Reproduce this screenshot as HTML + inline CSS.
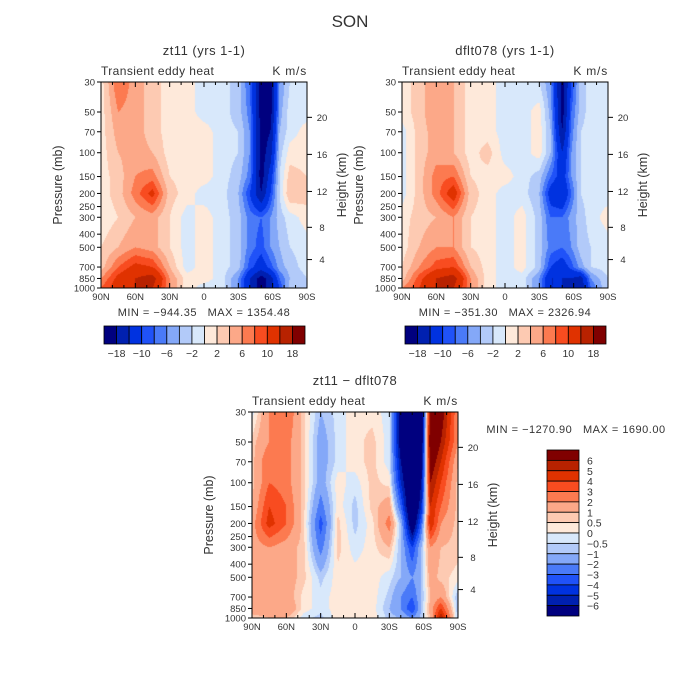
<!DOCTYPE html>
<html><head><meta charset="utf-8">
<style>
html,body{margin:0;padding:0;background:#fff;}
#wrap{position:relative;width:700px;height:700px;overflow:hidden;font-family:"Liberation Sans",sans-serif;}
canvas{position:absolute;}
svg{position:absolute;left:0;top:0;}
text{font-family:"Liberation Sans",sans-serif;fill:#333;white-space:pre;}
</style></head>
<body>
<div id="wrap">
<canvas id="c1"></canvas>
<canvas id="c2"></canvas>
<canvas id="c3"></canvas>
<svg id="ov" width="700" height="700"></svg>
</div>
<script>
// ---- data ----
const lats = [90,75,60,45,30,15,0,-15,-30,-40,-50,-58,-66,-75,-90];
const pLevels = [30,50,70,100,150,200,300,500,700,850,1000];
const zt11 = [
 [1,8,5,3,1,1,-1,-1,-3,-8,-20,-20,-6,-2,-1],
 [1,6,5,3,1,1,-1,-1,-3,-7,-20,-20,-5,-1,-1],
 [1,5,5,3,1,1,1,-1,-2,-6,-20,-18,-4,-1,1],
 [1,4,5,4,1,1,1,-1,-2,-6,-20,-16,-3,1,1],
 [1,3,6,7,2,1,1,-1,-3,-7,-20,-12,-2,3,2],
 [1,3,7,11,3,1,-1,-1,-4,-10,-18,-10,-2,4,3],
 [0.5,2,4,5,2,-1,1,-1,-3,-7,-8,-6,-3,-1,1],
 [2,4,6,5,2,-1,1,-1,-3,-7,-9,-6,-4,-2,-1],
 [3,8,11,10,4,-1,1,-1,-3,-9,-12,-9,-5,-3,-1],
 [6,11,14,16,6,1,1,-1,-6,-14,-20,-16,-8,-4,-2],
 [8,12,14,14,6,1,-1,-1,-6,-14,-20,-16,-10,-3,-2]
];
const dflt078 = [
 [1,3,6,4,1,1,-1,-1,-2,-6,-20,-10,-3,-1,-1],
 [1,3,6,4,1,1,-1,-1,1,-5,-20,-8,-3,-1,-1],
 [-1,3,5,4,1,1,-1,-1,1,-4,-18,-7,-2,-1,-1],
 [-1,3,5,4,1,3,-1,-1,1,-4,-14,-6,-2,-1,-1],
 [-1,3,7,8,2,1,1,-1,-3,-8,-12,-6,-2,-1,-1],
 [-1,3,7,12,3,1,-1,-1,-4,-12,-14,-8,-2,-1,-1],
 [1,3,4,6,2,1,-1,1,-3,-8,-8,-5,-3,-1,1],
 [1,4,6,6,2,1,-1,1,-3,-7,-8,-6,-3,-2,-1],
 [2,6,9,10,4,1,-1,1,-3,-10,-12,-9,-5,-2,-1],
 [3,9,14,16,6,1,-1,-1,-6,-14,-14,-14,-16,-6,-2],
 [6,10,14,14,6,1,-1,-1,-6,-14,-14,-16,-18,-8,-2]
];
const diff = [
 [-0.3,2,3,0.7,-1,-0.3,0.3,0.3,-0.3,-7,-9,-8,7,7,2],
 [0.7,2,2.5,0.7,-1.5,-0.3,0.3,0.7,-0.3,-7,-9,-8,8,6,2],
 [0.7,3,2.5,0.7,-1.5,-0.3,0.3,0.7,-0.3,-6,-9,-7,7,5,1],
 [0.7,3,2.5,0.7,-1.5,0.3,-0.3,0.7,0.3,-5,-9,-6,6,4,0.7],
 [1,4,3,0.7,-2.5,0.3,-0.7,0.7,1.5,-3,-9,-5,5,3,0.7],
 [1.5,4.5,3,0.7,-3.5,0.7,-0.7,0.3,2.5,-1,-8,-3,5,2,0.7],
 [1.5,2,1.5,0.7,-2.5,0.7,-0.3,0.3,1,-1,-4,-1,2,1,0.7],
 [1.5,1.5,1.5,0.7,-0.7,0.3,0.3,0.3,-0.3,-1,-2,-1,1.5,0.7,0.3],
 [1.5,2,1.5,0.3,-0.3,0.3,0.3,0.3,-0.7,-2,-3,-1,1,2,-1],
 [1.5,1.5,2,0.3,-0.3,0.3,0.3,0.3,-1,-2,-4,-1,1.5,4,-1],
 [0.7,1,1,-0.3,-0.7,0.3,0.3,0.3,-0.7,-1,-2,-0.7,1,6,-1]
];
const levelsMain = [-18,-14,-10,-8,-6,-4,-2,0,2,4,6,8,10,14,18];
const levelsDiff = [-6,-5,-4,-3,-2,-1,-0.5,0,0.5,1,2,3,4,5,6];
const mainBarLabels = ["-18","-10","-6","-2","2","6","10","18"];
const diffBarLabels = ["6","5","4","3","2","1","0.5","0","-0.5","-1","-2","-3","-4","-5","-6"];
const pTickLabels = [30,50,70,100,150,200,250,300,400,500,700,850,1000];
const latTickLabels = ["90N","60N","30N","0","30S","60S","90S"];
const latTickValues = [90,60,30,0,-30,-60,-90];
const heightTicks = [4,8,12,16,20];
const colors = ["#00007f","#0020b0","#0032e0","#2052f8","#4a7af8","#84a8f8","#b2caf9","#d8e8fb","#fee9da","#fdcab2","#fca888","#fc7a50","#f84c20","#e03200","#b82200","#800000"];

// ---- geometry ----
const P0=30,P1=1000,PW=206,PH=206;
const panels=[
 {id:'c1',x:101,y:82,data:zt11,lev:levelsMain,name:'zt11'},
 {id:'c2',x:402,y:82,data:dflt078,lev:levelsMain,name:'dflt078'},
 {id:'c3',x:252,y:412,data:diff,lev:levelsDiff,name:'diff'}
];
function yOfP(p,y0){return y0+Math.log(p/P0)/Math.log(P1/P0)*PH;}
function xOfLat(l,x0){return x0+(90-l)/180*PW;}
function pOfZ(zkm){const z=zkm*1000;return z<=11000?1013.25*Math.pow(1-2.25577e-5*z,5.25588):226.32*Math.exp(-(z-11000)/6341.6);}
function colorIdx(v,lev){let i=0;while(i<lev.length&&v>=lev[i])i++;return i;}
function hex(c){return [parseInt(c.substr(1,2),16),parseInt(c.substr(3,2),16),parseInt(c.substr(5,2),16)];}
const rgb=colors.map(hex);

panels.forEach(pn=>{
 const cv=document.getElementById(pn.id);
 cv.width=PW;cv.height=PH;cv.style.left=pn.x+'px';cv.style.top=pn.y+'px';
 const ctx=cv.getContext('2d');const img=ctx.createImageData(PW,PH);
 const lp=pLevels.map(p=>Math.log(p));
 for(let j=0;j<PH;j++){
  const p=Math.exp(Math.log(P0)+(j+0.5)/PH*Math.log(P1/P0));const l=Math.log(p);
  let r=0;while(r<lp.length-2&&l>lp[r+1])r++;
  let fy=(l-lp[r])/(lp[r+1]-lp[r]);fy=Math.max(0,Math.min(1,fy));
  for(let i=0;i<PW;i++){
   const lat=90-(i+0.5)/PW*180;
   let c=0;while(c<lats.length-2&&lat<lats[c+1])c++;
   let fx=(lats[c]-lat)/(lats[c]-lats[c+1]);fx=Math.max(0,Math.min(1,fx));
   const d=pn.data;
   const v=(d[r][c]*(1-fx)+d[r][c+1]*fx)*(1-fy)+(d[r+1][c]*(1-fx)+d[r+1][c+1]*fx)*fy;
   const k=colorIdx(v,pn.lev);const o=(j*PW+i)*4;
   img.data[o]=rgb[k][0];img.data[o+1]=rgb[k][1];img.data[o+2]=rgb[k][2];img.data[o+3]=255;
  }
 }
 ctx.putImageData(img,0,0);
});

// ---- overlay ----
const NS='http://www.w3.org/2000/svg';const ov=document.getElementById('ov');
function el(tag,attrs,txt){const e=document.createElementNS(NS,tag);for(const k in attrs)e.setAttribute(k,attrs[k]);if(txt!==undefined)e.textContent=txt;ov.appendChild(e);return e;}
function T(x,y,s,size,anchor,name,extra){const e=el('text',Object.assign({x:x,y:y,'font-size':size,'text-anchor':anchor||'middle'},extra||{}),s);
 
 return e;}

T(350,27,'SON',17,'middle','figure-title');

const titles=['zt11 (yrs 1-1)','dflt078 (yrs 1-1)','zt11 \u2212 dflt078'];
const titleY=[55,55,385];
panels.forEach((pn,n)=>{
 const x0=pn.x,y0=pn.y;
 T(x0+PW/2,titleY[n],titles[n],13,'middle','panel-title',{'letter-spacing':'0.5'});
 T(x0,y0-7,'Transient eddy heat',12,'start','variable-label',{'letter-spacing':'0.4'});
 T(x0+PW,y0-7,'K m/s',12,'end','units-label',{'letter-spacing':'0.8'});
 const fr=el('rect',{x:x0,y:y0,width:PW,height:PH,fill:'none',stroke:'#000','stroke-width':1});
 
 
 for(let L=90;L>=-90;L-=10){
  const x=xOfLat(L,x0);const major=(L%30===0);const len=major?5:3;
  el('line',{x1:x,y1:y0+PH,x2:x,y2:y0+PH-len,stroke:'#000','stroke-width':1});
  el('line',{x1:x,y1:y0,x2:x,y2:y0+len,stroke:'#000','stroke-width':1});
 }
 latTickLabels.forEach((s,i)=>{T(xOfLat(latTickValues[i],x0),y0+PH+12,s,9.5,'middle','x-tick-label');});
 pTickLabels.forEach(p=>{const y=yOfP(p,y0);
  el('line',{x1:x0,y1:y,x2:x0-4,y2:y,stroke:'#000','stroke-width':1});
  T(x0-6,y+3.5,String(p),9.5,'end','y-tick-label');});
 T(0,0,'Pressure (mb)',12.5,'middle','y-axis-title',{transform:`translate(${x0-39},${y0+PH/2}) rotate(-90)`});
 heightTicks.forEach(h=>{const y=yOfP(pOfZ(h),y0);
  el('line',{x1:x0+PW,y1:y,x2:x0+PW+5,y2:y,stroke:'#000','stroke-width':1});
  T(x0+PW+15,y+3.5,String(h),9.5,'middle','height-tick-label');});
 T(0,0,'Height (km)',12.5,'middle','right-axis-title',{transform:`translate(${x0+PW+39},${y0+PH/2}) rotate(-90)`});
});
T(204,316,'MIN = \u2212944.35   MAX = 1354.48',11,'middle','min-max-label',{'letter-spacing':'0.5'});
T(505,316,'MIN = \u2212351.30   MAX = 2326.94',11,'middle','min-max-label',{'letter-spacing':'0.5'});
T(576,433,'MIN = \u22121270.90   MAX = 1690.00',11,'middle','min-max-label',{'letter-spacing':'0.5'});

[104,405].forEach(bx=>{
 const bw=201/16;
 colors.forEach((c,i)=>{const r=el('rect',{x:bx+i*bw,y:326,width:bw,height:18,fill:c,stroke:'#000','stroke-width':0.8});
  
  });
 mainBarLabels.forEach((s,k)=>{const b=1+2*k;T(bx+b*bw,357,s.replace('-','\u2212'),10.5,'middle','colorbar-label');});
});
const vx=547,vy=450,vw=32,vh=166/16;
for(let i=0;i<16;i++){const r=el('rect',{x:vx,y:vy+i*vh,width:vw,height:vh,fill:colors[15-i],stroke:'#000','stroke-width':0.8});
 
 }
diffBarLabels.forEach((s,k)=>{T(vx+vw+8,vy+(k+1)*vh+4,s.replace('-','\u2212'),10.5,'start','legend-label');});
</script>
</body></html>
